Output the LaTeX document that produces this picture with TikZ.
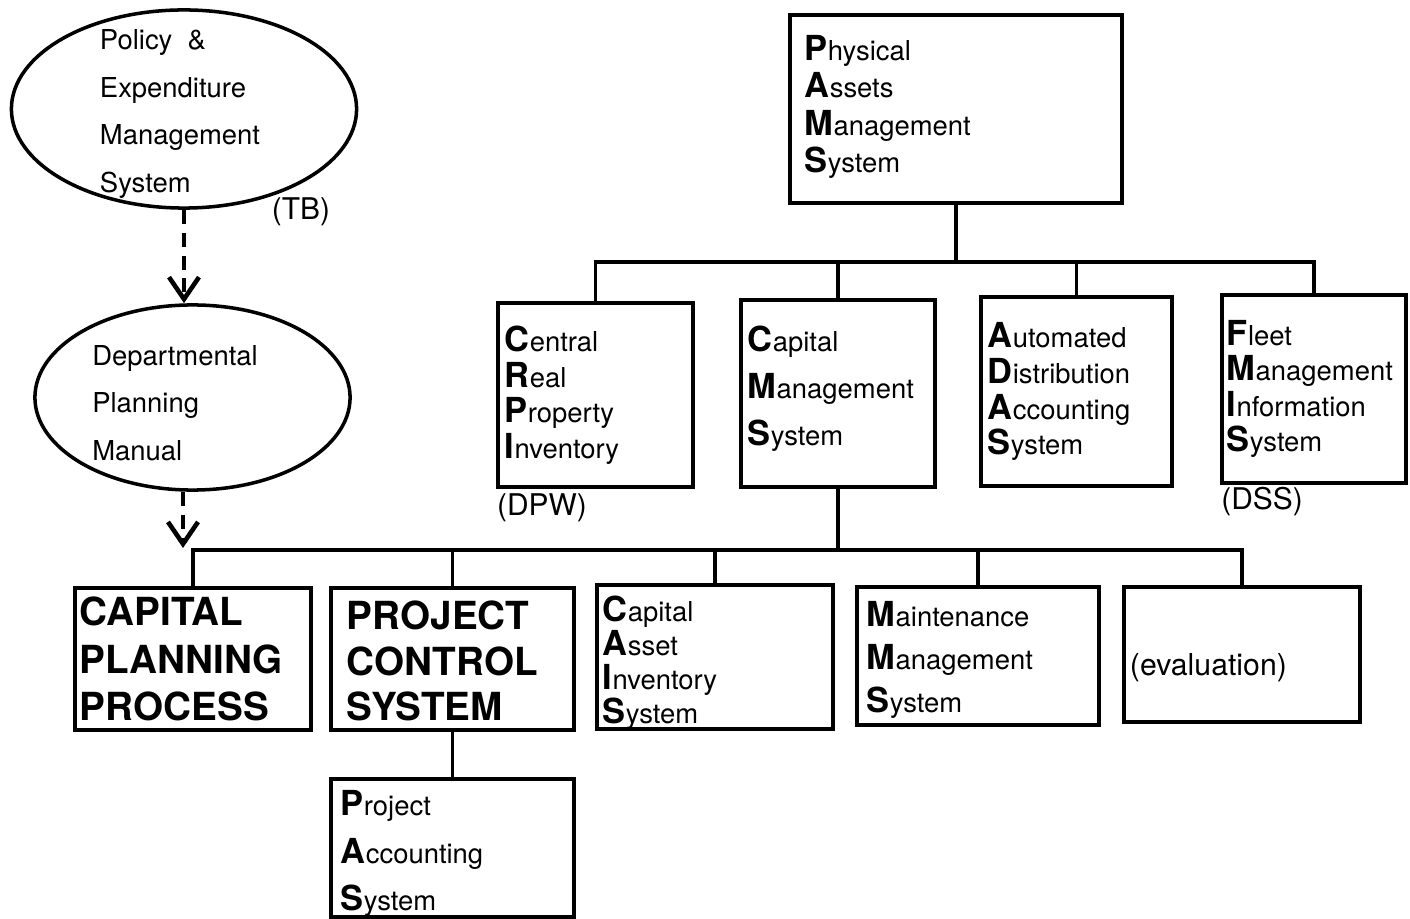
\documentclass[tikz,border=0pt]{standalone}
\usepackage{fontspec}
\setmainfont{TeX Gyre Heros}
\usetikzlibrary{shapes.geometric,arrows.meta}
\newcommand{\ini}[1]{{\fontsize{9.8}{9.8}\selectfont\bfseries #1}}
\newcommand{\padbelow}[1]{\rule[-#1]{0pt}{0pt}}
\newcommand{\padabove}[1]{\rule{0pt}{#1}}

\begin{document}
\begin{tikzpicture}[x=0.01cm, y=-0.01cm,
    sysbox/.style={draw, line width=1pt, rectangle, align=left, inner ysep=0pt, inner xsep=0.07cm, font=\fontsize{7.8}{#1}\selectfont},
    sysbox/.default=10.5pt,
    capsbox/.style={sysbox, font=\fontsize{11}{#1}\selectfont\bfseries},
    plan/.style={draw, ellipse, line width=1pt, inner sep=0pt},
    plantext/.style={align=left, font=\fontsize{7.8}{13.5pt}\selectfont},
    agency/.style={font=\fontsize{8.5}{10}\selectfont},
    bus/.style={line width=1pt},
    feed/.style={line width=1.3pt, dash pattern=on 4pt off 2.5pt, -{Straight Barb[length=2.2mm, width=3mm, line width=1.3pt]}}]
    \useasboundingbox (0,0) rectangle (1410,919);

    % Planning documents
    \node[plan, minimum width=3.45cm, minimum height=1.98cm] (pem) at (184,109) {};
    \node[plantext] (pemtxt) at (180,114) {Policy \ \&\\Expenditure\\Management\\System};
    \node[agency] (tb) at (301,212) {(TB)};

    \node[plan, minimum width=3.15cm, minimum height=1.85cm] (dpm) at (192.5,397.5) {};
    \node[plantext] (dpmtxt) at (175,403) {Departmental\\Planning\\Manual};

    \coordinate (mantip) at (183,548);
    \draw[feed] (pem.south) -- (pem.south |- dpm.north);
    \draw[feed] (dpm.south -| mantip) -- (mantip);

    % PAMS
    \node[sysbox=10.7pt, inner xsep=0.15cm, text width=3.02cm, minimum height=1.88cm] (pams) at (956,109) {\ini{P}hysical\\\ini{A}ssets\\\ini{M}anagement\\\ini{S}ystem\padbelow{0.1cm}};

    \node[sysbox=10.1pt, text width=1.81cm, minimum height=1.84cm] (crpi) at (595.5,395) {\ini{C}entral\\\ini{R}eal\\\ini{P}roperty\\\ini{I}nventory};
    \node[sysbox=13.3pt, text width=1.80cm, minimum height=1.87cm] (cms) at (838,393.5) {\ini{C}apital\\\ini{M}anagement\\\ini{S}ystem\padbelow{0.16cm}};
    \node[sysbox=10.2pt, text width=1.77cm, minimum height=1.89cm] (adas) at (1076.5,391.5) {\ini{A}utomated\\\ini{D}istribution\\\ini{A}ccounting\\\ini{S}ystem};
    \node[sysbox=10pt, inner xsep=0.05cm, text width=1.74cm, minimum height=1.88cm] (fmis) at (1314,389) {\ini{F}leet\\\ini{M}anagement\\\ini{I}nformation\\\ini{S}ystem};
    \node[agency] (dpw) at (542,508) {(DPW)};
    \node[agency] (dss) at (1262,502) {(DSS)};

    \coordinate (pamsbus) at (955,262);
    \draw[bus] (pams.south) -- (pams.south |- pamsbus);
    \draw[bus] (crpi.north) -- (crpi.north |- pamsbus) -| (fmis.north);
    \draw[bus] (cms.north) -- (cms.north |- pamsbus);
    \draw[bus] (adas.north) -- (adas.north |- pamsbus);

    % Capital Management System
    \node[capsbox=13.6pt, inner xsep=0.05cm, text width=2.26cm, minimum height=1.42cm] (cpp) at (193,659) {CAPITAL\\PLANNING\\PROCESS};
    \node[capsbox=13pt, inner xsep=0.16cm, text width=2.11cm, minimum height=1.42cm] (pcs) at (452.5,659) {\padabove{0.33cm}PROJECT\\CONTROL\\SYSTEM};
    \node[sysbox=9.6pt, inner xsep=0.06cm, text width=2.24cm, minimum height=1.40cm] (cais) at (715,657) {\padabove{0.37cm}\ini{C}apital\\\ini{A}sset\\\ini{I}nventory\\\ini{S}ystem};
    \node[sysbox=12.3pt, inner xsep=0.1cm, text width=2.22cm, minimum height=1.38cm] (mms) at (978,656) {\padabove{0.33cm}\ini{M}aintenance\\\ini{M}anagement\\\ini{S}ystem};
    \node[sysbox, inner xsep=0.06cm, text width=2.24cm, minimum height=1.35cm, font=\fontsize{8.6}{10}\selectfont] (evalbox) at (1242,654.5) {\raisebox{-0.13cm}[\height][\depth]{(evaluation)}};

    \coordinate (cmsbus) at (838,550);
    \draw[bus] (cms.south) -- (cmsbus);
    \draw[bus] (cpp.north) -- (cpp.north |- cmsbus) -| (evalbox.north);
    \draw[bus] (pcs.north) -- (pcs.north |- cmsbus);
    \draw[bus] (cais.north) -- (cais.north |- cmsbus);
    \draw[bus] (mms.north) -- (mms.north |- cmsbus);

    % Project accounting
    \node[sysbox=13.5pt, inner xsep=0.1cm, text width=2.23cm, minimum height=1.38cm] (pas) at (452.5,848) {\padabove{0.36cm}\ini{P}roject\\\ini{A}ccounting\\\ini{S}ystem};
    \draw[bus] (pcs.south) -- (pas.north);
\end{tikzpicture}
\end{document}
